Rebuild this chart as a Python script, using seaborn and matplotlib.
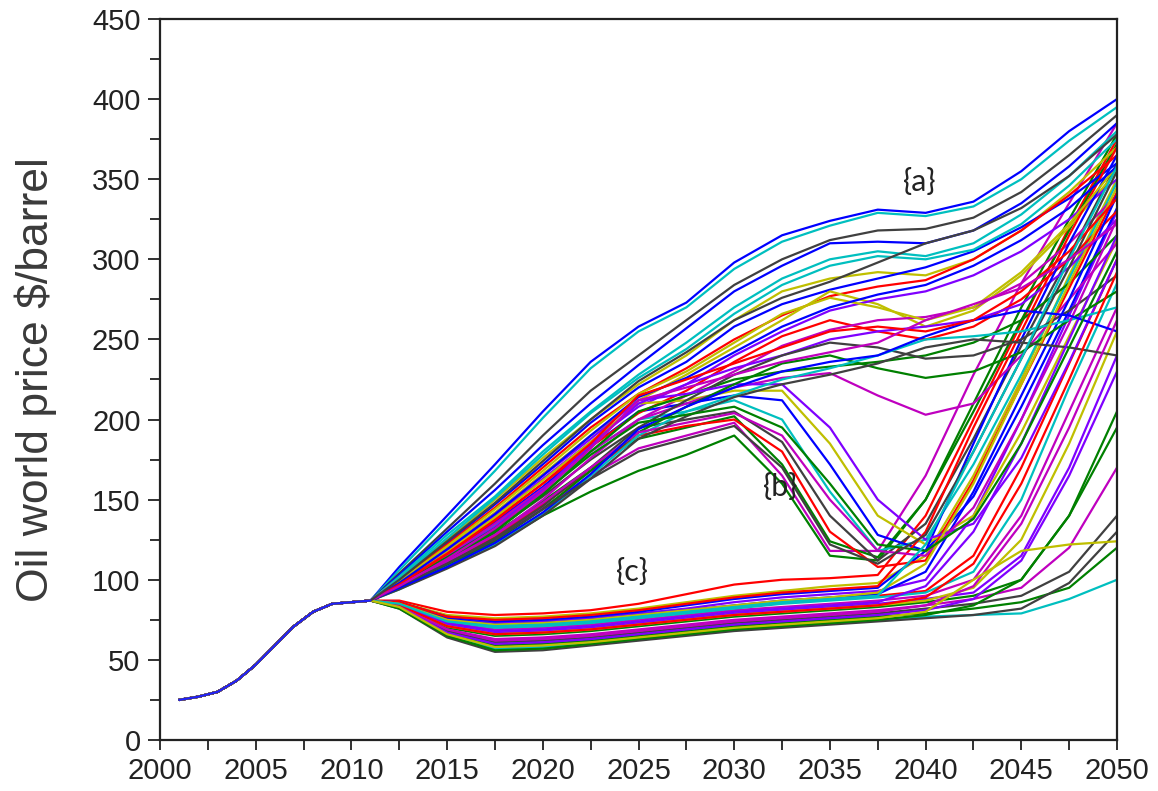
import numpy as np
import pandas as pd
import seaborn as sns
import matplotlib.pyplot as plt
from matplotlib.ticker import MultipleLocator

# historical part shared by every run (annual)
hist_years = [2001, 2002, 2003, 2004, 2005, 2006, 2007, 2008, 2009, 2010, 2011]
hist_price = [25, 27, 30, 37, 47, 59, 71, 80, 85, 86, 87]

# scenario grid (every 2.5 years after 2011)
scen_years = [2012.5, 2015, 2017.5, 2020, 2022.5, 2025, 2027.5, 2030,
              2032.5, 2035, 2037.5, 2040, 2042.5, 2045, 2047.5, 2050]

# {a} steady risers
a01 = [108, 140, 172, 205, 236, 258, 273, 298, 315, 324, 331, 329, 336, 355, 380, 400]
a02 = [106, 137, 168, 201, 232, 255, 270, 294, 311, 321, 329, 327, 333, 350, 374, 395]
a03 = [104, 132, 160, 190, 218, 240, 262, 284, 300, 312, 318, 319, 326, 342, 365, 390]
a04 = [103, 130, 156, 184, 210, 234, 257, 280, 296, 310, 311, 310, 318, 335, 358, 385]
a05 = [102, 128, 152, 180, 205, 228, 248, 270, 288, 300, 305, 302, 310, 328, 352, 380]
a06 = [101, 125, 150, 176, 200, 222, 240, 262, 280, 288, 292, 290, 300, 318, 342, 370]
a07 = [100, 123, 147, 172, 198, 220, 236, 258, 272, 281, 288, 295, 305, 320, 338, 360]
a08 = [100, 122, 145, 170, 195, 216, 232, 250, 265, 277, 283, 287, 300, 318, 340, 365]
a09 = [99, 120, 142, 166, 190, 212, 228, 245, 262, 280, 272, 258, 268, 290, 320, 355]
a10 = [98, 118, 140, 163, 186, 208, 222, 240, 255, 268, 275, 280, 290, 305, 325, 350]
a11 = [98, 117, 138, 160, 183, 204, 218, 236, 252, 262, 255, 250, 258, 275, 300, 330]
a12 = [97, 115, 135, 157, 180, 200, 215, 230, 246, 256, 262, 264, 270, 285, 310, 340]
a13 = [97, 114, 133, 156, 184, 210, 222, 232, 240, 250, 255, 258, 262, 272, 295, 325]
a14 = [96, 112, 130, 153, 180, 205, 215, 225, 230, 233, 236, 240, 248, 262, 285, 315]
a15 = [96, 111, 128, 150, 176, 200, 210, 220, 226, 229, 215, 203, 210, 240, 275, 310]
a16 = [95, 110, 126, 146, 170, 195, 212, 228, 240, 248, 245, 238, 240, 250, 268, 290]
a17 = [95, 109, 124, 144, 168, 192, 208, 222, 235, 240, 232, 226, 230, 242, 262, 280]
a18 = [94, 108, 122, 141, 165, 190, 205, 215, 225, 232, 240, 250, 252, 255, 262, 270]
a19 = [94, 107, 121, 140, 163, 188, 202, 214, 222, 228, 235, 245, 250, 248, 245, 240]
a20 = [95, 108, 123, 142, 166, 194, 208, 220, 230, 236, 240, 252, 262, 268, 265, 255]
a21 = [101, 126, 151, 178, 204, 226, 244, 266, 284, 296, 302, 300, 306, 322, 346, 375]
a22 = [99, 121, 144, 168, 193, 216, 230, 248, 266, 276, 270, 262, 270, 292, 322, 358]
a23 = [98, 119, 141, 165, 190, 214, 226, 242, 258, 270, 278, 284, 296, 312, 332, 358]
a24 = [97, 116, 137, 160, 185, 215, 225, 235, 245, 255, 258, 255, 262, 280, 305, 338]
a25 = [96, 113, 132, 155, 182, 212, 220, 228, 236, 242, 248, 262, 272, 282, 300, 322]
a26 = [100, 124, 148, 174, 200, 224, 242, 262, 276, 286, 298, 310, 318, 332, 352, 378]

# {b} peak then crash
b01 = [95, 108, 122, 140, 155, 168, 178, 190, 160, 115, 112, 150, 210, 270, 325, 378]
b02 = [96, 110, 126, 145, 165, 182, 190, 198, 165, 118, 118, 165, 228, 285, 335, 385]
b03 = [97, 112, 129, 149, 170, 188, 195, 202, 172, 124, 114, 150, 205, 262, 318, 372]
b04 = [97, 113, 131, 152, 175, 195, 200, 205, 186, 140, 112, 135, 188, 246, 302, 360]
b05 = [98, 115, 134, 156, 180, 200, 205, 212, 200, 155, 118, 125, 172, 228, 288, 348]
b06 = [98, 116, 136, 158, 183, 205, 210, 215, 212, 172, 128, 118, 152, 208, 268, 332]
b07 = [99, 118, 139, 162, 186, 210, 212, 218, 218, 185, 140, 122, 140, 192, 252, 312]
b08 = [96, 111, 127, 147, 168, 190, 196, 200, 180, 130, 108, 112, 162, 222, 282, 342]
b09 = [99, 119, 141, 165, 188, 212, 216, 222, 222, 195, 150, 125, 135, 176, 236, 300]
b10 = [97, 112, 128, 148, 170, 192, 198, 204, 190, 150, 118, 115, 145, 200, 260, 325]
b11 = [98, 114, 132, 154, 178, 198, 203, 208, 195, 160, 122, 118, 138, 185, 245, 305]
b12 = [96, 110, 125, 144, 163, 180, 188, 196, 170, 122, 110, 128, 180, 238, 295, 355]

# {c} low path
c01 = [87, 80, 78, 79, 81, 85, 91, 97, 100, 101, 103, 140, 200, 260, 320, 375]
c02 = [86, 78, 76, 77, 79, 82, 86, 90, 93, 96, 98, 115, 165, 225, 290, 350]
c03 = [86, 76, 73, 74, 76, 79, 82, 86, 89, 91, 93, 100, 140, 200, 265, 330]
c04 = [85, 75, 71, 72, 74, 77, 80, 83, 86, 88, 90, 93, 115, 170, 235, 300]
c05 = [85, 73, 69, 70, 72, 75, 78, 81, 83, 85, 87, 90, 100, 140, 205, 270]
c06 = [84, 72, 67, 68, 70, 73, 76, 79, 81, 83, 85, 88, 92, 115, 170, 240]
c07 = [84, 70, 65, 66, 68, 71, 74, 77, 79, 81, 83, 86, 90, 100, 140, 205]
c08 = [84, 69, 63, 64, 66, 69, 72, 75, 77, 79, 81, 84, 88, 95, 120, 170]
c09 = [83, 68, 61, 62, 64, 67, 70, 73, 75, 77, 79, 82, 85, 90, 105, 140]
c10 = [83, 66, 59, 60, 62, 65, 68, 71, 73, 75, 77, 79, 82, 86, 95, 120]
c11 = [83, 65, 57, 58, 60, 63, 66, 69, 71, 73, 75, 77, 78, 79, 88, 100]
c12 = [82, 64, 55, 56, 59, 62, 65, 68, 70, 72, 74, 76, 78, 82, 98, 130]
c13 = [86, 77, 74, 75, 77, 80, 84, 88, 91, 93, 95, 118, 185, 250, 310, 365]
c14 = [85, 74, 70, 71, 73, 76, 79, 82, 85, 87, 89, 92, 105, 150, 220, 285]
c15 = [84, 71, 66, 67, 69, 72, 75, 78, 80, 82, 84, 87, 95, 125, 185, 255]
c16 = [85, 76, 72, 73, 75, 78, 81, 84, 87, 89, 91, 105, 155, 215, 275, 340]
c17 = [86, 77, 75, 76, 78, 81, 85, 89, 92, 94, 96, 130, 195, 255, 315, 370]
c18 = [85, 75, 72, 73, 75, 78, 81, 84, 87, 89, 92, 110, 160, 222, 285, 345]
c19 = [84, 73, 68, 69, 71, 74, 77, 80, 82, 84, 86, 96, 130, 185, 250, 315]
c20 = [84, 71, 66, 67, 69, 72, 75, 78, 80, 82, 84, 89, 110, 160, 225, 292]
c21 = [83, 69, 62, 63, 65, 68, 71, 74, 76, 78, 80, 84, 96, 135, 195, 262]
c22 = [83, 67, 60, 61, 63, 66, 69, 72, 74, 76, 78, 81, 88, 112, 165, 230]
c23 = [82, 65, 56, 57, 60, 63, 66, 69, 71, 73, 75, 78, 84, 100, 140, 195]
c24 = [85, 74, 71, 72, 74, 77, 80, 83, 86, 88, 90, 122, 180, 238, 300, 358]
c25 = [83, 66, 58, 59, 61, 64, 67, 70, 72, 74, 76, 80, 100, 118, 122, 124]

runs = [a01, b01, c01, a02, b02, c02, a03, c03, a04, b03, c04, a05, c05, a06,
        b04, c06, a07, c07, a08, b05, c08, a09, c09, a10, b06, c10, a11, c11,
        a12, b07, c12, a13, c13, a14, b08, c14, a15, c15, a16, b09, c16, a17,
        c17, a18, b10, c18, a19, c19, a20, b11, c20, a21, c21, a22, b12, c22,
        a23, c23, a24, c24, a25, c25, a26]

line_colors = ["#0000ff", "#008000", "#ff0000", "#00bfbf", "#bf00bf",
               "#bfbf00", "#404040", "#7f00ff"]


def main():
    sns.set_theme(style="white")
    plt.rcParams['font.family'] = ['Liberation Sans', 'DejaVu Sans']

    rows = []
    for i, vals in enumerate(runs):
        yrs = hist_years + scen_years
        prices = hist_price + vals
        for y, p in zip(yrs, prices):
            rows.append({"year": y, "price": p, "run": i})
    df = pd.DataFrame(rows)
    df_hist = pd.DataFrame({"year": hist_years, "price": hist_price})

    fig = plt.figure(figsize=(11.58, 7.91), dpi=100)
    ax = fig.add_axes([0.1382, 0.0645, 0.8264, 0.9115])

    pal = [line_colors[i % len(line_colors)] for i in range(len(runs))]
    sns.lineplot(data=df, x="year", y="price", hue="run", palette=pal,
                 estimator=None, legend=False, linewidth=1.6, ax=ax)
    sns.lineplot(data=df_hist, x="year", y="price", color="#2020ff",
                 linewidth=1.4, ax=ax)

    ax.set_xlim(2000, 2050)
    ax.set_ylim(0, 450)
    ax.xaxis.set_major_locator(MultipleLocator(5))
    ax.xaxis.set_minor_locator(MultipleLocator(2.5))
    ax.yaxis.set_major_locator(MultipleLocator(50))
    ax.yaxis.set_minor_locator(MultipleLocator(25))
    ax.tick_params(which="major", direction="out", length=9, width=1.3,
                   color="#222222", labelsize=21, labelcolor="#222222", pad=5)
    ax.tick_params(which="minor", direction="out", length=7, width=1.3,
                   color="#222222")
    ax.tick_params(axis="x", which="both", length=7, bottom=True)
    ax.tick_params(axis="y", which="both", left=True)
    for s in ax.spines.values():
        s.set_color("#222222")
        s.set_linewidth(1.6)

    ax.set_xlabel("")
    ax.set_ylabel("Oil world price $/barrel", fontsize=32, color="#3a3a3a")
    ax.yaxis.set_label_coords(-0.108, 0.5)

    ann_font = dict(fontsize=22, color="#222222", family=["Lato", "DejaVu Sans"],
                    ha="center", va="center")
    ax.text(2039.7, 348, "{a}", **ann_font)
    ax.text(2032.4, 158, "{b}", **ann_font)
    ax.text(2024.7, 105, "{c}", **ann_font)

    fig.savefig("out.png", dpi=100)


if __name__ == "__main__":
    main()
